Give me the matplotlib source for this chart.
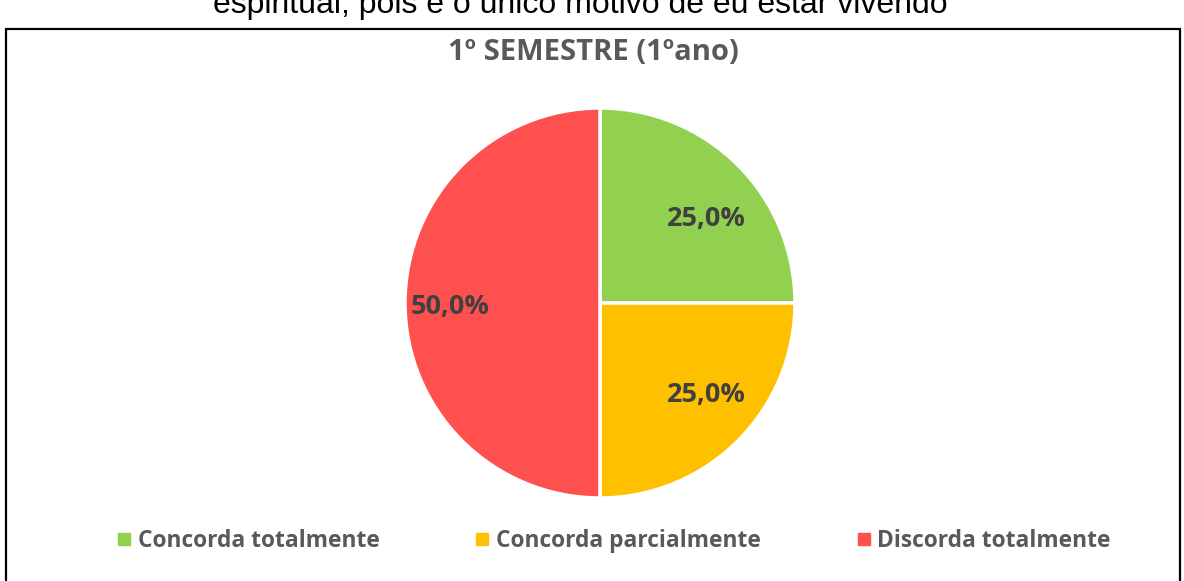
import numpy as np
import matplotlib
matplotlib.use("Agg")
import matplotlib.pyplot as plt
from matplotlib.lines import Line2D
from matplotlib.patches import Rectangle

categories = ["Concorda totalmente", "Concorda parcialmente", "Discorda totalmente"]
values = [25.0, 25.0, 50.0]
colors = ["#92D050", "#FFC000", "#FF5050"]
title = "1º SEMESTRE (1ºano)"
top_text = "espiritual, pois é o único motivo de eu estar vivendo"

W, H = 1184, 581
fig = plt.figure(figsize=(W / 100, H / 100), dpi=100)
fig.patch.set_facecolor("white")

FONT = "Open Sans"

# cut-off text at top (partially visible in the reference)
fig.text(580 / W, 1 - 13 / H, top_text, ha="center", va="baseline",
         fontsize=23, family="Liberation Sans", color="black")

# border
fig.add_artist(Rectangle((6 / W, -0.05), (1180 - 6) / W, 1 - 29 / H + 0.05,
                         transform=fig.transFigure, fill=False,
                         edgecolor="black", linewidth=1.6))

cx, cy, r = 600, 303, 195
ax = fig.add_axes([(cx - r) / W, (H - cy - r) / H, 2 * r / W, 2 * r / H])
wedges, texts, autotexts = ax.pie(
    values, colors=colors, startangle=90, counterclock=False,
    autopct=lambda p: f"{p:.1f}%".replace(".", ","), pctdistance=0.73,
    wedgeprops=dict(edgecolor="white", linewidth=2.5),
    textprops=dict(color="#404040", fontsize=19.5, fontweight="bold", family=FONT))
# label placement similar to Excel's (slightly elliptical)
for w, t in zip(wedges, autotexts):
    ang = np.deg2rad((w.theta1 + w.theta2) / 2)
    t.set_position((0.77 * np.cos(ang), 0.64 * np.sin(ang) - 0.02))
ax.set_xlim(-1, 1)
ax.set_ylim(-1, 1)
ax.set_aspect("equal")
ax.axis("off")

fig.text(593 / W, 1 - 53 / H, title, ha="center", va="center",
         fontsize=21, fontweight="bold", color="#595959", family=FONT)

handles = [Line2D([0], [0], marker="s", linestyle="none", markersize=8,
                  markerfacecolor=c, markeredgecolor=c) for c in colors]
fig.legend(handles, categories, loc="center", bbox_to_anchor=(613 / W, 1 - 541 / H),
           ncol=3, frameon=False, handletextpad=0.2, columnspacing=4.1,
           handlelength=0.8,
           prop=dict(family=FONT, weight="bold", size=16.4), labelcolor="#595959")

fig.savefig("out.png", dpi=100)
